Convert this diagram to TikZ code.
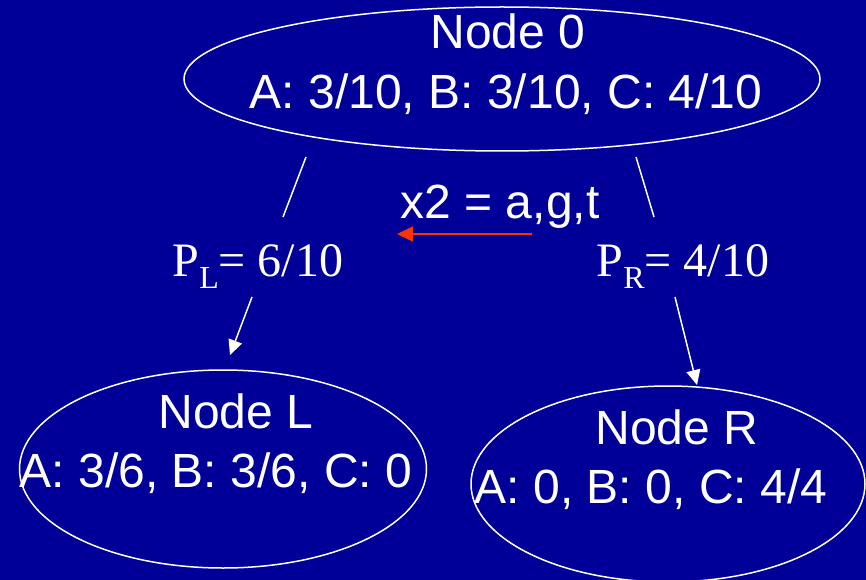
\documentclass[tikz,border=0pt]{standalone}
\usepackage{fontspec}
\setmainfont{Liberation Sans}
\newfontfamily\timesfont{Liberation Serif}
\usetikzlibrary{shapes.geometric,arrows.meta}
\definecolor{bgblue}{RGB}{0,0,153}
\definecolor{arrred}{RGB}{255,51,0}
\tikzset{
  x=1pt,y=-1pt,
  oval/.style={draw=white, line width=1.5pt, ellipse, inner sep=0pt},
  txt/.style={text=white, anchor=base, inner sep=0pt, font=\fontsize{48}{58}\selectfont},
  ptxt/.style={text=white, anchor=base, inner sep=0pt, font=\timesfont\fontsize{48}{58}\selectfont},
  wline/.style={draw=white, line width=1.5pt},
  warrow/.style={wline, -{Triangle[length=15pt,width=14pt]}},
  rarrow/.style={draw=arrred, line width=1.5pt, -{Triangle[length=16pt,width=15pt]}}
}
\newcommand{\psub}[1]{\raisebox{-12pt}{\fontsize{32}{36}\selectfont #1}}
\begin{document}
\begin{tikzpicture}
\fill[bgblue] (0,0) rectangle (866,580);
\useasboundingbox (0,0) rectangle (866,580);

% ellipses
\node[oval, minimum width=636pt, minimum height=144pt] (n0) at (502,79) {};
\node[oval, minimum width=407pt, minimum height=198pt] (nL) at (223,469) {};
\node[oval, minimum width=394pt, minimum height=196pt] (nR) at (668,484) {};

% texts in ellipses
\node[txt] (t0a) at (508,49) {Node 0};
\node[txt] (t0b) at (506,109) {A: 3/10, B: 3/10, C: 4/10};
\node[txt] (tLa) at (236,428) {Node L};
\node[txt] (tLb) at (216,487) {A: 3/6, B: 3/6, C: 0};
\node[txt] (tRa) at (677,444) {Node R};
\node[txt] (tRb) at (651,503) {A: 0, B: 0, C: 4/4};

% split label
\node[txt] (split) at (500,218) {x2 = a,g,t};

% probability labels
\node[ptxt] (pL) at (258,276) {P\psub{L}= 6/10};
\node[ptxt] (pR) at (683,276) {P\psub{R}= 4/10};

% connector coordinates
\coordinate (l1) at (306,157);
\coordinate (l2) at (283,217);
\coordinate (l3) at (252,297);
\coordinate (l4) at (230,355);
\coordinate (r1) at (636,157);
\coordinate (r2) at (654,217);
\coordinate (r3) at (675,297);
\coordinate (r4) at (697,385);
\coordinate (a1) at (532,234);
\coordinate (a2) at (397,234);

\draw[wline] (l1) -- (l2);
\draw[warrow] (l3) -- (l4);
\draw[wline] (r1) -- (r2);
\draw[warrow] (r3) -- (r4);
\draw[rarrow] (a1) -- (a2);
\end{tikzpicture}
\end{document}
